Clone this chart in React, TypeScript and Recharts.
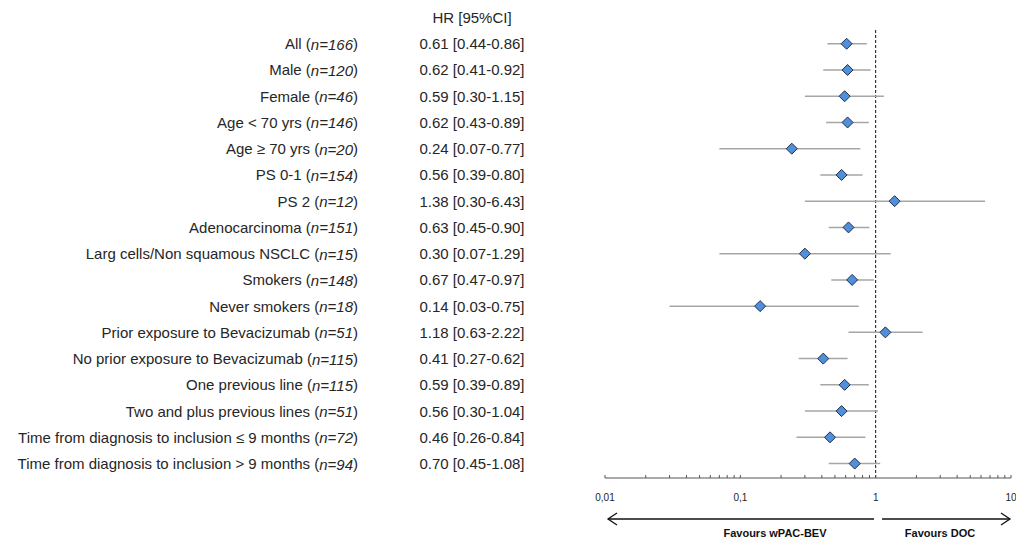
import { ScatterChart, Scatter, XAxis, YAxis, ErrorBar, ReferenceLine } from "recharts";

const labels = [
  "All",
  "Male",
  "Female",
  "Age < 70 yrs",
  "Age \u2265 70 yrs",
  "PS 0-1",
  "PS 2",
  "Adenocarcinoma",
  "Larg cells/Non squamous NSCLC",
  "Smokers",
  "Never smokers",
  "Prior exposure to Bevacizumab",
  "No prior exposure to Bevacizumab",
  "One previous line",
  "Two and plus previous lines",
  "Time from diagnosis to inclusion \u2264 9 months",
  "Time from diagnosis to inclusion > 9 months",
];
const nValues = [166, 120, 46, 146, 20, 154, 12, 151, 15, 148, 18, 51, 115, 115, 51, 72, 94];
const hr = [0.61, 0.62, 0.59, 0.62, 0.24, 0.56, 1.38, 0.63, 0.3, 0.67, 0.14, 1.18, 0.41, 0.59, 0.56, 0.46, 0.7];
const lower = [0.44, 0.41, 0.3, 0.43, 0.07, 0.39, 0.3, 0.45, 0.07, 0.47, 0.03, 0.63, 0.27, 0.39, 0.3, 0.26, 0.45];
const upper = [0.86, 0.92, 1.15, 0.89, 0.77, 0.8, 6.43, 0.9, 1.29, 0.97, 0.75, 2.22, 0.62, 0.89, 1.04, 0.84, 1.08];

const xTicks = [
  0.01, 0.02, 0.03, 0.04, 0.05, 0.06, 0.07, 0.08, 0.09,
  0.1, 0.2, 0.3, 0.4, 0.5, 0.6, 0.7, 0.8, 0.9,
  1, 2, 3, 4, 5, 6, 7, 8, 9, 10,
];
const xTickLabels: Record<number, string> = { 0.01: "0,01", 0.1: "0,1", 1: "1", 10: "10" };

const rows = labels.map((label, i) => ({
  row: i,
  label,
  n: nValues[i],
  hr: hr[i],
  ci: [hr[i] - lower[i], upper[i] - hr[i]],
  text: `${hr[i].toFixed(2)} [${lower[i].toFixed(2)}-${upper[i].toFixed(2)}]`,
}));

const FONT = "'Liberation Sans', Arial, sans-serif";
const TEXT = "#262626";

function RowTick(props: any) {
  const { y, payload } = props;
  const r = rows[payload.value];
  if (!r) return null;
  return (
    <g fontFamily={FONT} fontSize={15} fill={TEXT}>
      <text x={358} y={y} textAnchor="end" dominantBaseline="central">
        {r.label} (<tspan fontStyle="italic">n={r.n}</tspan>)
      </text>
      <text x={472} y={y} textAnchor="middle" dominantBaseline="central">
        {r.text}
      </text>
    </g>
  );
}

function LogTick(props: any) {
  const { x, y, payload } = props;
  const label = xTickLabels[payload.value];
  return (
    <g>
      <line x1={x} x2={x} y1={y} y2={y - 3} stroke="#555" strokeWidth={1} />
      {label && (
        <text x={x} y={y + 23} textAnchor="middle" fontFamily={FONT} fontSize={10} fill={TEXT}>
          {label}
        </text>
      )}
    </g>
  );
}

function Diamond(props: any) {
  const { cx, cy } = props;
  const r = 5.5;
  return (
    <polygon
      points={`${cx},${cy - r} ${cx + r},${cy} ${cx},${cy + r} ${cx - r},${cy}`}
      fill="#4f8fdc"
      stroke="#1f2f4a"
      strokeWidth={1}
    />
  );
}

export default function App() {
  return (
    <div style={{ position: "absolute", left: 0, top: 0, width: 1016, height: 541, background: "#fff" }}>
      <ScatterChart width={1016} height={541} margin={{ top: 28, right: 5, bottom: 0, left: 604 }}>
        <XAxis
          type="number"
          dataKey="hr"
          scale="log"
          domain={[0.01, 10]}
          ticks={xTicks}
          interval={0}
          tick={<LogTick />}
          tickLine={false}
          tickSize={0}
          tickMargin={0}
          axisLine={{ stroke: "#555" }}
          height={63}
        />
        <YAxis
          type="number"
          dataKey="row"
          domain={[-0.6, 16.55]}
          reversed
          ticks={rows.map((r) => r.row)}
          interval={0}
          tick={<RowTick />}
          axisLine={false}
          tickLine={false}
          width={1}
        />
        <ReferenceLine x={1} stroke="#111" strokeDasharray="3 2" strokeWidth={1} />
        <Scatter data={rows} shape={<Diamond />} isAnimationActive={false}>
          <ErrorBar dataKey="ci" direction="x" width={0} stroke="#a6a6a6" strokeWidth={1.5} />
        </Scatter>
      </ScatterChart>
      <svg width={1016} height={541} style={{ position: "absolute", left: 0, top: 0, pointerEvents: "none" }}>
        <text x={472} y={17} textAnchor="middle" dominantBaseline="central" fontFamily={FONT} fontSize={15} fill={TEXT}>
          HR [95%CI]
        </text>
        <g stroke="#111" strokeWidth={1.3} fill="none">
          <line x1={608} y1={519} x2={874} y2={519} />
          <polyline points="617,513 608,519 617,525" />
          <line x1={882} y1={519} x2={1010} y2={519} />
          <polyline points="1001,513 1010,519 1001,525" />
        </g>
        <g fontFamily={FONT} fontSize={11} fontWeight="bold" fill="#111" textAnchor="middle">
          <text x={775} y={537}>Favours wPAC-BEV</text>
          <text x={940} y={537}>Favours DOC</text>
        </g>
      </svg>
    </div>
  );
}
